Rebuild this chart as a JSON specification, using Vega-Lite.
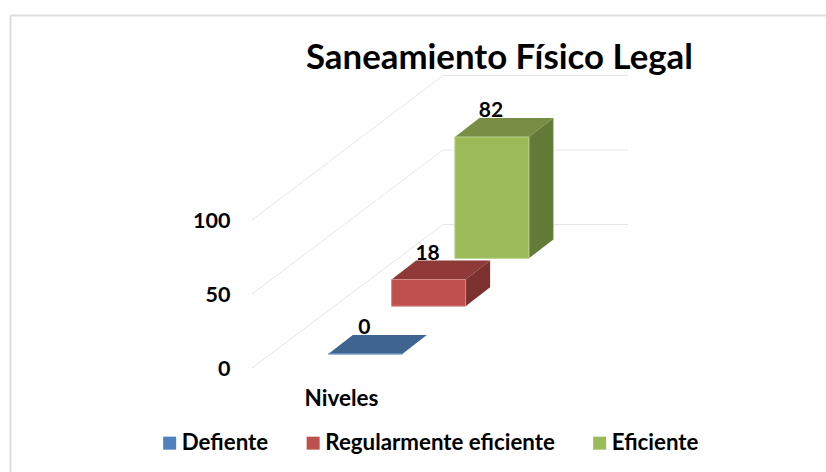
{
"$schema":"https://vega.github.io/schema/vega-lite/v6.json",
"width":826,"height":472,"padding":0,"autosize":{"type":"none"},"background":"white",
"config":{"view":{"stroke":null},"font":"Lato"},
"title":{"text":"Saneamiento Físico Legal","frame":"group","anchor":"start","dx":306,"dy":81,"fontSize":34.8,"font":"Lato","fontWeight":"bold","color":"#000000"},
"data":{"values":[{"nivel":"Defiente","valor":0,"orden":0},{"nivel":"Regularmente eficiente","valor":18,"orden":1},{"nivel":"Eficiente","valor":82,"orden":2}]},
"transform":[
{"calculate":"328.3+63.3*datum.orden","as":"x0"},
{"calculate":"datum.x0+74","as":"x1"},
{"calculate":"9.5+32.3*datum.orden","as":"base"},
{"calculate":"datum.base+datum.valor","as":"tope"},
{"calculate":"datum.x0+36","as":"xEtiqueta"},
{"calculate":"datum.tope+17.4","as":"yEtiqueta"}
],
"layer":[
{"data":{"values":[{"marco":"borde"}]},"mark":{"type":"rule","color":"#dddddd","strokeWidth":2},
 "encoding":{"x":{"datum":10.5,"type":"quantitative","scale":{"domain":[0,826],"nice":false,"zero":false},"axis":null},"y":{"datum":-70.27,"type":"quantitative","scale":{"domain":[-70.27,248.65],"nice":false,"zero":false},"axis":null},"y2":{"datum":238.2}}},
{"data":{"values":[{"marco":"borde"}]},"mark":{"type":"rule","color":"#dddddd","strokeWidth":2},
 "encoding":{"x":{"datum":10.5,"type":"quantitative","scale":{"domain":[0,826],"nice":false,"zero":false},"axis":null},"x2":{"datum":826},"y":{"datum":238.2,"type":"quantitative","scale":{"domain":[-70.27,248.65],"nice":false,"zero":false},"axis":null}}},
{"data":{"values":[{"valor":0},{"valor":50},{"valor":100}]},"transform":[{"calculate":"96.96+1.0068*datum.valor","as":"pared"}],"mark":{"type":"rule","color":"#e6e6e6","strokeWidth":1},
 "encoding":{"x":{"datum":252,"type":"quantitative","scale":{"domain":[0,826],"nice":false,"zero":false},"axis":null},"x2":{"datum":443},"y":{"field":"valor","type":"quantitative","scale":{"domain":[-70.27,248.65],"nice":false,"zero":false},"axis":null},"y2":{"field":"pared"}}},
{"data":{"values":[{"valor":0},{"valor":50},{"valor":100}]},"transform":[{"calculate":"96.96+1.0068*datum.valor","as":"pared"}],"mark":{"type":"rule","color":"#e6e6e6","strokeWidth":1},
 "encoding":{"x":{"datum":443,"type":"quantitative","scale":{"domain":[0,826],"nice":false,"zero":false},"axis":null},"x2":{"datum":628},"y":{"field":"pared","type":"quantitative","scale":{"domain":[-70.27,248.65],"nice":false,"zero":false},"axis":null}}},
{"transform":[{"calculate":"[0,24.5,74,98.5]","as":"puntos"},{"flatten":["puntos"],"as":["d"]},{"calculate":"datum.x0+datum.d","as":"xp"},{"calculate":"datum.tope+max(0,(datum.d-74)/24.5)*12.8","as":"yBajo"},{"calculate":"datum.tope+min(datum.d/24.5,1)*12.8","as":"yAlto"}],
 "mark":{"type":"area","orient":"vertical","opacity":1},
 "encoding":{"x":{"field":"xp","type":"quantitative","scale":{"domain":[0,826],"nice":false,"zero":false},"axis":null},"y":{"field":"yBajo","type":"quantitative","stack":false,"scale":{"domain":[-70.27,248.65],"nice":false,"zero":false},"axis":null},"y2":{"field":"yAlto"},
 "color":{"field":"nivel","type":"nominal","legend":null,"scale":{"domain":["Defiente","Regularmente eficiente","Eficiente"],"range":["#3e648f","#8f3a38","#778e44"]}}}},
{"transform":[{"calculate":"[0,24.5]","as":"puntos"},{"flatten":["puntos"],"as":["d"]},{"calculate":"datum.x1+datum.d","as":"xp"},{"calculate":"datum.base+datum.d/24.5*12.8","as":"yBajo"},{"calculate":"datum.tope+datum.d/24.5*12.8","as":"yAlto"}],
 "mark":{"type":"area","orient":"vertical","opacity":1},
 "encoding":{"x":{"field":"xp","type":"quantitative","scale":{"domain":[0,826],"nice":false,"zero":false},"axis":null},"y":{"field":"yBajo","type":"quantitative","stack":false,"scale":{"domain":[-70.27,248.65],"nice":false,"zero":false},"axis":null},"y2":{"field":"yAlto"},
 "color":{"field":"nivel","type":"nominal","legend":null,"scale":{"domain":["Defiente","Regularmente eficiente","Eficiente"],"range":["#365578","#7c312f","#647a38"]}}}},
{"mark":{"type":"rect","strokeWidth":1},
 "encoding":{"x":{"field":"x0","type":"quantitative","scale":{"domain":[0,826],"nice":false,"zero":false},"axis":{"title":"Niveles","titleFont":"Lato","titleFontSize":22.5,"titleFontWeight":"bold","titleColor":"#000000","titleX":341,"titleY":-74,"titleAlign":"center","titleBaseline":"middle","labels":false,"ticks":false,"domain":false,"grid":false}},"x2":{"field":"x1"},
 "y":{"field":"base","type":"quantitative","scale":{"domain":[-70.27,248.65],"nice":false,"zero":false},"axis":{"title":null,"values":[0,50,100],"offset":-230,"labelFont":"Lato","labelFontSize":21.5,"labelFontWeight":"bold","labelColor":"#000000","labelPadding":0,"labelOffset":1,"ticks":false,"domain":false,"grid":false}},"y2":{"field":"tope"},
 "stroke":{"field":"nivel","type":"nominal","legend":null,"scale":{"domain":["Defiente","Regularmente eficiente","Eficiente"],"range":["#6f94c4","#d68a88","#b9d08a"]}},
 "color":{"field":"nivel","type":"nominal","scale":{"domain":["Defiente","Regularmente eficiente","Eficiente"],"range":["#4f81bd","#c0504d","#9bbb59"]},
 "legend":{"orient":"none","legendX":158.5,"legendY":432,"direction":"horizontal","title":null,"columns":3,"gridAlign":"none","columnPadding":33.5,"symbolType":"square","symbolSize":169,"symbolStrokeWidth":0,"labelFont":"Lato","labelFontSize":22.3,"labelFontWeight":"bold","labelColor":"#000000","labelOffset":1,"labelLimit":400,"symbolOffset":0}}}},
{"mark":{"type":"text","font":"Lato","fontSize":21,"fontWeight":"bold","color":"#000000","align":"center","baseline":"middle"},
 "encoding":{"x":{"field":"xEtiqueta","type":"quantitative","scale":{"domain":[0,826],"nice":false,"zero":false},"axis":null},"y":{"field":"yEtiqueta","type":"quantitative","scale":{"domain":[-70.27,248.65],"nice":false,"zero":false},"axis":null},"text":{"field":"valor","type":"quantitative"}}}
],
"resolve":{"scale":{"color":"independent","stroke":"independent"},"axis":{"x":"independent","y":"independent"}}
}
